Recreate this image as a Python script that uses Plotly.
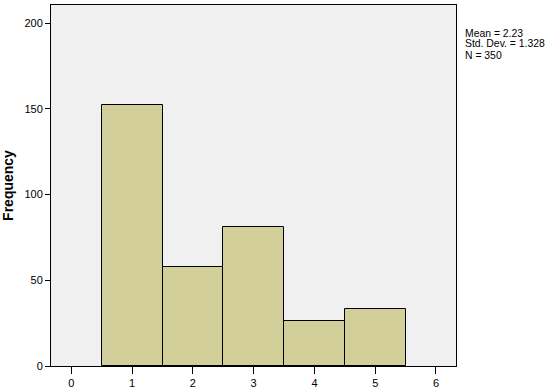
import plotly.graph_objects as go

categories = [1, 2, 3, 4, 5]
frequencies = [152, 58, 81, 26, 33]
x_ticks = [0, 1, 2, 3, 4, 5, 6]
y_ticks = [0, 50, 100, 150, 200]
stats_lines = ["Mean = 2.23", "Std. Dev. = 1.328", "N = 350"]

fig = go.Figure()
fig.add_trace(go.Bar(
    x=categories, y=frequencies, width=1,
    marker=dict(color="#d3cf9b", line=dict(color="#000000", width=1)),
    hoverinfo="skip",
))

font = "Liberation Sans, Arial, sans-serif"
fig.update_layout(
    width=554, height=388,
    margin=dict(l=51, r=98, t=5, b=22),
    paper_bgcolor="#ffffff",
    plot_bgcolor="#f0f0f0",
    showlegend=False,
    bargap=0,
    font=dict(family=font, size=11, color="#000000"),
    xaxis=dict(
        range=[-0.336, 6.33], tickvals=x_ticks, ticktext=[str(v) for v in x_ticks],
        ticks="outside", ticklen=7, tickcolor="#000000",
        showline=True, linecolor="#000000", linewidth=1, mirror=True,
        showgrid=False, zeroline=False, fixedrange=True, automargin=False,
    ),
    yaxis=dict(
        range=[0, 210.5], tickvals=y_ticks, ticktext=[str(v) for v in y_ticks],
        ticks="outside", ticklen=5, tickcolor="#000000",
        showline=True, linecolor="#000000", linewidth=1, mirror=True,
        showgrid=False, zeroline=False, fixedrange=True, automargin=False,
        title=dict(text="<b>Frequency</b>", font=dict(size=14, family=font), standoff=14),
    ),
)
# plot area spans pixel rows 5..366 (361 px)
line_pix = [33, 44, 55]
for txt, yp in zip(stats_lines, line_pix):
    fig.add_annotation(
        text=txt, xref="paper", yref="paper", x=1.0, y=(366 - yp) / 361,
        xanchor="left", yanchor="middle", xshift=7, showarrow=False, align="left",
        font=dict(size=10.4, family=font, color="#000000"),
    )
fig.write_html("out.html")
